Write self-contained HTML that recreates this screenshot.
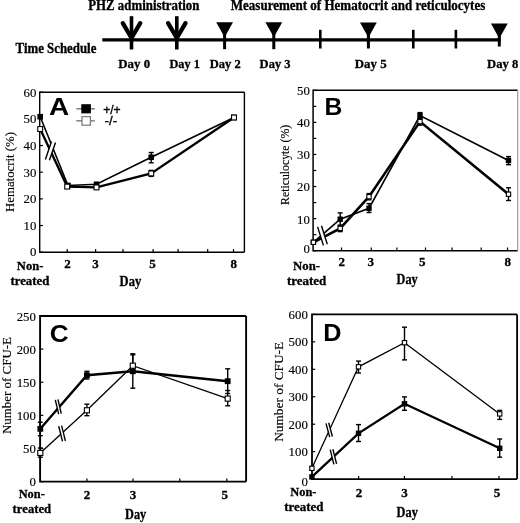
<!DOCTYPE html>
<html><head><meta charset="utf-8"><style>
html,body{margin:0;padding:0;background:#fff;}
body{width:520px;height:523px;overflow:hidden;}
svg{display:block;filter:grayscale(1);}
</style></head><body>
<svg width="520" height="523" viewBox="0 0 520 523">
<rect width="520" height="523" fill="#fff"/>
<text x="88.2" y="10" font-family='"Liberation Serif", serif' font-size="13.6" font-weight="bold" text-anchor="start" stroke="#000" stroke-width="0.3" textLength="111.2" lengthAdjust="spacingAndGlyphs">PHZ administration</text>
<text x="230.8" y="9.8" font-family='"Liberation Serif", serif' font-size="13.6" font-weight="bold" text-anchor="start" stroke="#000" stroke-width="0.3" textLength="254.5" lengthAdjust="spacingAndGlyphs">Measurement of Hematocrit and reticulocytes</text>
<text x="15.6" y="52.6" font-family='"Liberation Serif", serif' font-size="13.8" font-weight="bold" text-anchor="start" stroke="#000" stroke-width="0.3" textLength="80.8" lengthAdjust="spacingAndGlyphs">Time Schedule</text>
<line x1="102.3" y1="39.9" x2="500.5" y2="39.9" stroke="#000" stroke-width="3.3" stroke-linecap="butt"/>
<line x1="131.5" y1="16.2" x2="131.5" y2="49.5" stroke="#000" stroke-width="3.6" stroke-linecap="butt"/>
<line x1="122.8" y1="23.2" x2="130.9" y2="37" stroke="#000" stroke-width="4.3" stroke-linecap="round"/>
<line x1="140.2" y1="23.2" x2="132.1" y2="37" stroke="#000" stroke-width="4.3" stroke-linecap="round"/>
<line x1="176.8" y1="16.2" x2="176.8" y2="49.5" stroke="#000" stroke-width="3.6" stroke-linecap="butt"/>
<line x1="168.1" y1="23.2" x2="176.2" y2="37" stroke="#000" stroke-width="4.3" stroke-linecap="round"/>
<line x1="185.5" y1="23.2" x2="177.4" y2="37" stroke="#000" stroke-width="4.3" stroke-linecap="round"/>
<polygon points="216.2,22.3 233,22.3 224.6,37.3" fill="#000"/>
<line x1="224.6" y1="32.3" x2="224.6" y2="49.2" stroke="#000" stroke-width="3.0" stroke-linecap="butt"/>
<polygon points="265.4,22.3 282.2,22.3 273.8,37.3" fill="#000"/>
<line x1="273.8" y1="32.3" x2="273.8" y2="49.2" stroke="#000" stroke-width="3.0" stroke-linecap="butt"/>
<polygon points="360,22.4 376.8,22.4 368.4,37.4" fill="#000"/>
<line x1="368.4" y1="32.4" x2="368.4" y2="48.5" stroke="#000" stroke-width="3.0" stroke-linecap="butt"/>
<polygon points="490.9,23.5 507.7,23.5 499.3,38.5" fill="#000"/>
<line x1="499.3" y1="33.5" x2="499.3" y2="46.5" stroke="#000" stroke-width="3.0" stroke-linecap="butt"/>
<line x1="320.3" y1="29.8" x2="320.3" y2="48.5" stroke="#000" stroke-width="2.6" stroke-linecap="butt"/>
<line x1="413.3" y1="29.8" x2="413.3" y2="48.5" stroke="#000" stroke-width="2.6" stroke-linecap="butt"/>
<line x1="455.9" y1="29.8" x2="455.9" y2="48.5" stroke="#000" stroke-width="2.6" stroke-linecap="butt"/>
<text x="118.3" y="68.3" font-family='"Liberation Serif", serif' font-size="13.5" font-weight="bold" text-anchor="start" stroke="#000" stroke-width="0.3" textLength="31.8" lengthAdjust="spacingAndGlyphs">Day 0</text>
<text x="169.4" y="68.3" font-family='"Liberation Serif", serif' font-size="13.5" font-weight="bold" text-anchor="start" stroke="#000" stroke-width="0.3" textLength="30.4" lengthAdjust="spacingAndGlyphs">Day 1</text>
<text x="209.8" y="68.3" font-family='"Liberation Serif", serif' font-size="13.5" font-weight="bold" text-anchor="start" stroke="#000" stroke-width="0.3" textLength="31" lengthAdjust="spacingAndGlyphs">Day 2</text>
<text x="259.6" y="68.3" font-family='"Liberation Serif", serif' font-size="13.5" font-weight="bold" text-anchor="start" stroke="#000" stroke-width="0.3" textLength="31" lengthAdjust="spacingAndGlyphs">Day 3</text>
<text x="354.8" y="68.3" font-family='"Liberation Serif", serif' font-size="13.5" font-weight="bold" text-anchor="start" stroke="#000" stroke-width="0.3" textLength="31.8" lengthAdjust="spacingAndGlyphs">Day 5</text>
<text x="487.1" y="68.3" font-family='"Liberation Serif", serif' font-size="13.5" font-weight="bold" text-anchor="start" stroke="#000" stroke-width="0.3" textLength="31.1" lengthAdjust="spacingAndGlyphs">Day 8</text>
<path d="M244.4,92.2 L39.7,92.2 L39.7,252.2 L244.4,252.2" fill="none" stroke="#000" stroke-width="1.4"/>
<line x1="244.4" y1="92.2" x2="244.4" y2="252.2" stroke="#000" stroke-width="1.4"/>
<line x1="39.7" y1="252.2" x2="42.9" y2="252.2" stroke="#000" stroke-width="1.2" stroke-linecap="butt"/>
<line x1="39.7" y1="225.53" x2="42.9" y2="225.53" stroke="#000" stroke-width="1.2" stroke-linecap="butt"/>
<line x1="39.7" y1="198.87" x2="42.9" y2="198.87" stroke="#000" stroke-width="1.2" stroke-linecap="butt"/>
<line x1="39.7" y1="172.2" x2="42.9" y2="172.2" stroke="#000" stroke-width="1.2" stroke-linecap="butt"/>
<line x1="39.7" y1="145.53" x2="42.9" y2="145.53" stroke="#000" stroke-width="1.2" stroke-linecap="butt"/>
<line x1="39.7" y1="118.87" x2="42.9" y2="118.87" stroke="#000" stroke-width="1.2" stroke-linecap="butt"/>
<line x1="39.7" y1="92.2" x2="42.9" y2="92.2" stroke="#000" stroke-width="1.2" stroke-linecap="butt"/>
<text x="36.4" y="255.8" font-family='"Liberation Serif", serif' font-size="13.5" font-weight="normal" text-anchor="end" stroke="#000" stroke-width="0.15" textLength="6.4" lengthAdjust="spacingAndGlyphs">0</text>
<text x="36.4" y="230.03" font-family='"Liberation Serif", serif' font-size="13.5" font-weight="normal" text-anchor="end" stroke="#000" stroke-width="0.15" textLength="12.8" lengthAdjust="spacingAndGlyphs">10</text>
<text x="36.4" y="203.37" font-family='"Liberation Serif", serif' font-size="13.5" font-weight="normal" text-anchor="end" stroke="#000" stroke-width="0.15" textLength="12.8" lengthAdjust="spacingAndGlyphs">20</text>
<text x="36.4" y="176.7" font-family='"Liberation Serif", serif' font-size="13.5" font-weight="normal" text-anchor="end" stroke="#000" stroke-width="0.15" textLength="12.8" lengthAdjust="spacingAndGlyphs">30</text>
<text x="36.4" y="150.03" font-family='"Liberation Serif", serif' font-size="13.5" font-weight="normal" text-anchor="end" stroke="#000" stroke-width="0.15" textLength="12.8" lengthAdjust="spacingAndGlyphs">40</text>
<text x="36.4" y="123.37" font-family='"Liberation Serif", serif' font-size="13.5" font-weight="normal" text-anchor="end" stroke="#000" stroke-width="0.15" textLength="12.8" lengthAdjust="spacingAndGlyphs">50</text>
<text x="36.4" y="96.7" font-family='"Liberation Serif", serif' font-size="13.5" font-weight="normal" text-anchor="end" stroke="#000" stroke-width="0.15" textLength="12.8" lengthAdjust="spacingAndGlyphs">60</text>
<line x1="67.2" y1="252.2" x2="67.2" y2="249" stroke="#000" stroke-width="1.2" stroke-linecap="butt"/>
<line x1="95.6" y1="252.2" x2="95.6" y2="249" stroke="#000" stroke-width="1.2" stroke-linecap="butt"/>
<line x1="123" y1="252.2" x2="123" y2="249" stroke="#000" stroke-width="1.2" stroke-linecap="butt"/>
<line x1="153.1" y1="252.2" x2="153.1" y2="249" stroke="#000" stroke-width="1.2" stroke-linecap="butt"/>
<line x1="178.1" y1="252.2" x2="178.1" y2="249" stroke="#000" stroke-width="1.2" stroke-linecap="butt"/>
<line x1="207.7" y1="252.2" x2="207.7" y2="249" stroke="#000" stroke-width="1.2" stroke-linecap="butt"/>
<line x1="233.5" y1="252.2" x2="233.5" y2="249" stroke="#000" stroke-width="1.2" stroke-linecap="butt"/>
<text x="67.4" y="268" font-family='"Liberation Serif", serif' font-size="13" font-weight="bold" text-anchor="middle" stroke="#000" stroke-width="0.3">2</text>
<text x="95.4" y="268" font-family='"Liberation Serif", serif' font-size="13" font-weight="bold" text-anchor="middle" stroke="#000" stroke-width="0.3">3</text>
<text x="152.6" y="268" font-family='"Liberation Serif", serif' font-size="13" font-weight="bold" text-anchor="middle" stroke="#000" stroke-width="0.3">5</text>
<text x="233.7" y="268" font-family='"Liberation Serif", serif' font-size="13" font-weight="bold" text-anchor="middle" stroke="#000" stroke-width="0.3">8</text>
<text x="16.8" y="269.8" font-family='"Liberation Serif", serif' font-size="13" font-weight="bold" text-anchor="start" stroke="#000" stroke-width="0.3" textLength="26.6" lengthAdjust="spacingAndGlyphs">Non-</text>
<text x="10.4" y="285.3" font-family='"Liberation Serif", serif' font-size="13" font-weight="bold" text-anchor="start" stroke="#000" stroke-width="0.3" textLength="39" lengthAdjust="spacingAndGlyphs">treated</text>
<text x="119.6" y="286.2" font-family='"Liberation Serif", serif' font-size="13.8" font-weight="bold" text-anchor="start" stroke="#000" stroke-width="0.3" textLength="21.6" lengthAdjust="spacingAndGlyphs">Day</text>
<text x="9.6" y="172" font-family='"Liberation Serif", serif' font-size="13" stroke="#000" stroke-width="0.15" text-anchor="middle" transform="rotate(-90 9.6 172)" dominant-baseline="central" textLength="80" lengthAdjust="spacingAndGlyphs">Hematocrit (%)</text>
<text x="49" y="114.8" font-family='"Liberation Sans", sans-serif' font-size="24.5" font-weight="bold" text-anchor="start" textLength="20.2" lengthAdjust="spacingAndGlyphs">A</text>
<polyline points="40.2,129 67.2,186.6 96.5,187.4 151.2,173.4 234,117.5" fill="none" stroke="#000" stroke-width="2.3" stroke-linejoin="miter" stroke-miterlimit="3"/>
<polyline points="40.2,116.7 68,185.5 96.5,184.3 151.2,157.3 234,117.5" fill="none" stroke="#000" stroke-width="1.6" stroke-linejoin="miter" stroke-miterlimit="3"/>
<line x1="151.2" y1="170.4" x2="151.2" y2="176.4" stroke="#000" stroke-width="1.4" stroke-linecap="butt"/>
<line x1="148.7" y1="170.4" x2="153.7" y2="170.4" stroke="#000" stroke-width="1.4" stroke-linecap="butt"/>
<line x1="148.7" y1="176.4" x2="153.7" y2="176.4" stroke="#000" stroke-width="1.4" stroke-linecap="butt"/>
<line x1="151.2" y1="152.5" x2="151.2" y2="162.8" stroke="#000" stroke-width="1.4" stroke-linecap="butt"/>
<line x1="148.7" y1="152.5" x2="153.7" y2="152.5" stroke="#000" stroke-width="1.4" stroke-linecap="butt"/>
<line x1="148.7" y1="162.8" x2="153.7" y2="162.8" stroke="#000" stroke-width="1.4" stroke-linecap="butt"/>
<rect x="37.4" y="113.9" width="5.6" height="5.6" fill="#000"/>
<rect x="65.2" y="182.7" width="5.6" height="5.6" fill="#000"/>
<rect x="93.7" y="181.5" width="5.6" height="5.6" fill="#000"/>
<rect x="148.4" y="154.5" width="5.6" height="5.6" fill="#000"/>
<rect x="231.2" y="114.7" width="5.6" height="5.6" fill="#000"/>
<rect x="37.75" y="126.55" width="4.9" height="4.9" fill="#fff" stroke="#000" stroke-width="1.1"/>
<rect x="64.75" y="184.15" width="4.9" height="4.9" fill="#fff" stroke="#000" stroke-width="1.1"/>
<rect x="94.05" y="184.95" width="4.9" height="4.9" fill="#fff" stroke="#000" stroke-width="1.1"/>
<rect x="148.75" y="170.95" width="4.9" height="4.9" fill="#fff" stroke="#000" stroke-width="1.1"/>
<rect x="231.55" y="115.05" width="4.9" height="4.9" fill="#fff" stroke="#000" stroke-width="1.1"/>
<polygon points="45.4,159.4 51.5,141.6 55.5,142.5 49.4,160.3" fill="#fff"/>
<line x1="45.4" y1="159.4" x2="51.5" y2="141.6" stroke="#000" stroke-width="1.4" stroke-linecap="butt"/>
<line x1="49.4" y1="160.3" x2="55.5" y2="142.5" stroke="#000" stroke-width="1.4" stroke-linecap="butt"/>
<line x1="76.3" y1="108.8" x2="94.8" y2="108.8" stroke="#808080" stroke-width="1.5" stroke-linecap="butt"/>
<rect x="81.3" y="104.2" width="9.6" height="9.2" fill="#000"/>
<line x1="76.3" y1="120.8" x2="94.8" y2="120.8" stroke="#808080" stroke-width="1.5" stroke-linecap="butt"/>
<rect x="82" y="116.6" width="8.4" height="8.6" fill="#fff" stroke="#808080" stroke-width="1.3"/>
<text x="103.2" y="114" font-family='"Liberation Sans", sans-serif' font-size="12.5" font-weight="normal" text-anchor="start" stroke="#000" stroke-width="0.35" textLength="17.5" lengthAdjust="spacingAndGlyphs">+/+</text>
<text x="104.6" y="125.4" font-family='"Liberation Sans", sans-serif' font-size="12.5" font-weight="normal" text-anchor="start" stroke="#000" stroke-width="0.35" textLength="12.6" lengthAdjust="spacingAndGlyphs">-/-</text>
<path d="M517.7,90.3 L313.1,90.3 L313.1,250.7 L517.7,250.7" fill="none" stroke="#000" stroke-width="1.5"/>
<line x1="517.7" y1="90.3" x2="517.7" y2="250.7" stroke="#999" stroke-width="1.2"/>
<line x1="313.1" y1="250.7" x2="316.3" y2="250.7" stroke="#000" stroke-width="1.2" stroke-linecap="butt"/>
<line x1="313.1" y1="234.66" x2="316.3" y2="234.66" stroke="#000" stroke-width="1.2" stroke-linecap="butt"/>
<line x1="313.1" y1="218.62" x2="316.3" y2="218.62" stroke="#000" stroke-width="1.2" stroke-linecap="butt"/>
<line x1="313.1" y1="202.58" x2="316.3" y2="202.58" stroke="#000" stroke-width="1.2" stroke-linecap="butt"/>
<line x1="313.1" y1="186.54" x2="316.3" y2="186.54" stroke="#000" stroke-width="1.2" stroke-linecap="butt"/>
<line x1="313.1" y1="170.5" x2="316.3" y2="170.5" stroke="#000" stroke-width="1.2" stroke-linecap="butt"/>
<line x1="313.1" y1="154.46" x2="316.3" y2="154.46" stroke="#000" stroke-width="1.2" stroke-linecap="butt"/>
<line x1="313.1" y1="138.42" x2="316.3" y2="138.42" stroke="#000" stroke-width="1.2" stroke-linecap="butt"/>
<line x1="313.1" y1="122.38" x2="316.3" y2="122.38" stroke="#000" stroke-width="1.2" stroke-linecap="butt"/>
<line x1="313.1" y1="106.34" x2="316.3" y2="106.34" stroke="#000" stroke-width="1.2" stroke-linecap="butt"/>
<line x1="313.1" y1="90.3" x2="316.3" y2="90.3" stroke="#000" stroke-width="1.2" stroke-linecap="butt"/>
<text x="309.8" y="253.3" font-family='"Liberation Serif", serif' font-size="13.5" font-weight="normal" text-anchor="end" stroke="#000" stroke-width="0.15" textLength="6.4" lengthAdjust="spacingAndGlyphs">0</text>
<text x="309.8" y="223.52" font-family='"Liberation Serif", serif' font-size="13.5" font-weight="normal" text-anchor="end" stroke="#000" stroke-width="0.15" textLength="12.8" lengthAdjust="spacingAndGlyphs">10</text>
<text x="309.8" y="191.44" font-family='"Liberation Serif", serif' font-size="13.5" font-weight="normal" text-anchor="end" stroke="#000" stroke-width="0.15" textLength="12.8" lengthAdjust="spacingAndGlyphs">20</text>
<text x="309.8" y="159.36" font-family='"Liberation Serif", serif' font-size="13.5" font-weight="normal" text-anchor="end" stroke="#000" stroke-width="0.15" textLength="12.8" lengthAdjust="spacingAndGlyphs">30</text>
<text x="309.8" y="127.28" font-family='"Liberation Serif", serif' font-size="13.5" font-weight="normal" text-anchor="end" stroke="#000" stroke-width="0.15" textLength="12.8" lengthAdjust="spacingAndGlyphs">40</text>
<text x="309.8" y="95.2" font-family='"Liberation Serif", serif' font-size="13.5" font-weight="normal" text-anchor="end" stroke="#000" stroke-width="0.15" textLength="12.8" lengthAdjust="spacingAndGlyphs">50</text>
<line x1="341.5" y1="250.7" x2="341.5" y2="247.5" stroke="#000" stroke-width="1.2" stroke-linecap="butt"/>
<line x1="371.3" y1="250.7" x2="371.3" y2="247.5" stroke="#000" stroke-width="1.2" stroke-linecap="butt"/>
<line x1="396.9" y1="250.7" x2="396.9" y2="247.5" stroke="#000" stroke-width="1.2" stroke-linecap="butt"/>
<line x1="425.5" y1="250.7" x2="425.5" y2="247.5" stroke="#000" stroke-width="1.2" stroke-linecap="butt"/>
<line x1="452.1" y1="250.7" x2="452.1" y2="247.5" stroke="#000" stroke-width="1.2" stroke-linecap="butt"/>
<line x1="481.2" y1="250.7" x2="481.2" y2="247.5" stroke="#000" stroke-width="1.2" stroke-linecap="butt"/>
<line x1="507.5" y1="250.7" x2="507.5" y2="247.5" stroke="#000" stroke-width="1.2" stroke-linecap="butt"/>
<text x="341.8" y="266.3" font-family='"Liberation Serif", serif' font-size="13" font-weight="bold" text-anchor="middle" stroke="#000" stroke-width="0.3">2</text>
<text x="370.7" y="266.3" font-family='"Liberation Serif", serif' font-size="13" font-weight="bold" text-anchor="middle" stroke="#000" stroke-width="0.3">3</text>
<text x="422.3" y="266.3" font-family='"Liberation Serif", serif' font-size="13" font-weight="bold" text-anchor="middle" stroke="#000" stroke-width="0.3">5</text>
<text x="507.7" y="266.3" font-family='"Liberation Serif", serif' font-size="13" font-weight="bold" text-anchor="middle" stroke="#000" stroke-width="0.3">8</text>
<text x="293.1" y="269.9" font-family='"Liberation Serif", serif' font-size="13" font-weight="bold" text-anchor="start" stroke="#000" stroke-width="0.3" textLength="26.9" lengthAdjust="spacingAndGlyphs">Non-</text>
<text x="286.9" y="285.3" font-family='"Liberation Serif", serif' font-size="13" font-weight="bold" text-anchor="start" stroke="#000" stroke-width="0.3" textLength="39.4" lengthAdjust="spacingAndGlyphs">treated</text>
<text x="396.6" y="283.9" font-family='"Liberation Serif", serif' font-size="13.8" font-weight="bold" text-anchor="start" stroke="#000" stroke-width="0.3" textLength="21" lengthAdjust="spacingAndGlyphs">Day</text>
<text x="284.8" y="164.9" font-family='"Liberation Serif", serif' font-size="13" stroke="#000" stroke-width="0.15" text-anchor="middle" transform="rotate(-90 284.8 164.9)" dominant-baseline="central" textLength="80" lengthAdjust="spacingAndGlyphs">Reticulocyte (%)</text>
<text x="324.5" y="114.8" font-family='"Liberation Sans", sans-serif' font-size="23.5" font-weight="bold" text-anchor="start" textLength="17.8" lengthAdjust="spacingAndGlyphs">B</text>
<polyline points="313.4,242.3 340.2,228.4 369,196.7 420,121.6 508.5,194.2" fill="none" stroke="#000" stroke-width="2.6" stroke-linejoin="miter" stroke-miterlimit="3"/>
<polyline points="313.4,242.3 340.2,219.2 369,208.3 420,115.6 508.5,160.5" fill="none" stroke="#000" stroke-width="1.7" stroke-linejoin="miter" stroke-miterlimit="3"/>
<line x1="340.2" y1="225.2" x2="340.2" y2="231.6" stroke="#000" stroke-width="1.4" stroke-linecap="butt"/>
<line x1="337.7" y1="225.2" x2="342.7" y2="225.2" stroke="#000" stroke-width="1.4" stroke-linecap="butt"/>
<line x1="337.7" y1="231.6" x2="342.7" y2="231.6" stroke="#000" stroke-width="1.4" stroke-linecap="butt"/>
<line x1="369" y1="193.6" x2="369" y2="199.8" stroke="#000" stroke-width="1.4" stroke-linecap="butt"/>
<line x1="366.5" y1="193.6" x2="371.5" y2="193.6" stroke="#000" stroke-width="1.4" stroke-linecap="butt"/>
<line x1="366.5" y1="199.8" x2="371.5" y2="199.8" stroke="#000" stroke-width="1.4" stroke-linecap="butt"/>
<line x1="420" y1="118.5" x2="420" y2="125.2" stroke="#000" stroke-width="1.4" stroke-linecap="butt"/>
<line x1="417.5" y1="118.5" x2="422.5" y2="118.5" stroke="#000" stroke-width="1.4" stroke-linecap="butt"/>
<line x1="417.5" y1="125.2" x2="422.5" y2="125.2" stroke="#000" stroke-width="1.4" stroke-linecap="butt"/>
<line x1="508.5" y1="187.8" x2="508.5" y2="200.5" stroke="#000" stroke-width="1.4" stroke-linecap="butt"/>
<line x1="506" y1="187.8" x2="511" y2="187.8" stroke="#000" stroke-width="1.4" stroke-linecap="butt"/>
<line x1="506" y1="200.5" x2="511" y2="200.5" stroke="#000" stroke-width="1.4" stroke-linecap="butt"/>
<line x1="340.2" y1="212.9" x2="340.2" y2="225.5" stroke="#000" stroke-width="1.4" stroke-linecap="butt"/>
<line x1="337.7" y1="212.9" x2="342.7" y2="212.9" stroke="#000" stroke-width="1.4" stroke-linecap="butt"/>
<line x1="337.7" y1="225.5" x2="342.7" y2="225.5" stroke="#000" stroke-width="1.4" stroke-linecap="butt"/>
<line x1="369" y1="203.6" x2="369" y2="212.5" stroke="#000" stroke-width="1.4" stroke-linecap="butt"/>
<line x1="366.5" y1="203.6" x2="371.5" y2="203.6" stroke="#000" stroke-width="1.4" stroke-linecap="butt"/>
<line x1="366.5" y1="212.5" x2="371.5" y2="212.5" stroke="#000" stroke-width="1.4" stroke-linecap="butt"/>
<line x1="420" y1="112.6" x2="420" y2="118.6" stroke="#000" stroke-width="1.4" stroke-linecap="butt"/>
<line x1="417.5" y1="112.6" x2="422.5" y2="112.6" stroke="#000" stroke-width="1.4" stroke-linecap="butt"/>
<line x1="417.5" y1="118.6" x2="422.5" y2="118.6" stroke="#000" stroke-width="1.4" stroke-linecap="butt"/>
<line x1="508.5" y1="156.6" x2="508.5" y2="164.7" stroke="#000" stroke-width="1.4" stroke-linecap="butt"/>
<line x1="506" y1="156.6" x2="511" y2="156.6" stroke="#000" stroke-width="1.4" stroke-linecap="butt"/>
<line x1="506" y1="164.7" x2="511" y2="164.7" stroke="#000" stroke-width="1.4" stroke-linecap="butt"/>
<rect x="310.7" y="239.6" width="5.4" height="5.4" fill="#000"/>
<rect x="337.5" y="216.5" width="5.4" height="5.4" fill="#000"/>
<rect x="366.3" y="205.6" width="5.4" height="5.4" fill="#000"/>
<rect x="417.3" y="112.9" width="5.4" height="5.4" fill="#000"/>
<rect x="505.8" y="157.8" width="5.4" height="5.4" fill="#000"/>
<rect x="311.25" y="240.15" width="4.3" height="4.3" fill="#fff" stroke="#000" stroke-width="1.1"/>
<rect x="338.05" y="226.25" width="4.3" height="4.3" fill="#fff" stroke="#000" stroke-width="1.1"/>
<rect x="366.85" y="194.55" width="4.3" height="4.3" fill="#fff" stroke="#000" stroke-width="1.1"/>
<rect x="417.85" y="119.45" width="4.3" height="4.3" fill="#fff" stroke="#000" stroke-width="1.1"/>
<rect x="506.35" y="192.05" width="4.3" height="4.3" fill="#fff" stroke="#000" stroke-width="1.1"/>
<polygon points="317.6,226.9 323.4,245.4 327.3,244.3 321.5,225.8" fill="#fff"/>
<line x1="317.6" y1="226.9" x2="323.4" y2="245.4" stroke="#000" stroke-width="1.4" stroke-linecap="butt"/>
<line x1="321.5" y1="225.8" x2="327.3" y2="244.3" stroke="#000" stroke-width="1.4" stroke-linecap="butt"/>
<path d="M246.1,316 L40.1,316 L40.1,481.6 L246.1,481.6" fill="none" stroke="#000" stroke-width="1.9"/>
<line x1="246.1" y1="316" x2="246.1" y2="481.6" stroke="#000" stroke-width="1.9"/>
<line x1="40.1" y1="481.6" x2="43.3" y2="481.6" stroke="#000" stroke-width="1.2" stroke-linecap="butt"/>
<line x1="40.1" y1="448.48" x2="43.3" y2="448.48" stroke="#000" stroke-width="1.2" stroke-linecap="butt"/>
<line x1="40.1" y1="415.36" x2="43.3" y2="415.36" stroke="#000" stroke-width="1.2" stroke-linecap="butt"/>
<line x1="40.1" y1="382.24" x2="43.3" y2="382.24" stroke="#000" stroke-width="1.2" stroke-linecap="butt"/>
<line x1="40.1" y1="349.12" x2="43.3" y2="349.12" stroke="#000" stroke-width="1.2" stroke-linecap="butt"/>
<line x1="40.1" y1="316" x2="43.3" y2="316" stroke="#000" stroke-width="1.2" stroke-linecap="butt"/>
<text x="35.9" y="486.1" font-family='"Liberation Serif", serif' font-size="13.5" font-weight="normal" text-anchor="end" stroke="#000" stroke-width="0.15" textLength="6.4" lengthAdjust="spacingAndGlyphs">0</text>
<text x="35.9" y="452.98" font-family='"Liberation Serif", serif' font-size="13.5" font-weight="normal" text-anchor="end" stroke="#000" stroke-width="0.15" textLength="12.8" lengthAdjust="spacingAndGlyphs">50</text>
<text x="35.9" y="419.86" font-family='"Liberation Serif", serif' font-size="13.5" font-weight="normal" text-anchor="end" stroke="#000" stroke-width="0.15" textLength="19.2" lengthAdjust="spacingAndGlyphs">100</text>
<text x="35.9" y="386.74" font-family='"Liberation Serif", serif' font-size="13.5" font-weight="normal" text-anchor="end" stroke="#000" stroke-width="0.15" textLength="19.2" lengthAdjust="spacingAndGlyphs">150</text>
<text x="35.9" y="353.62" font-family='"Liberation Serif", serif' font-size="13.5" font-weight="normal" text-anchor="end" stroke="#000" stroke-width="0.15" textLength="19.2" lengthAdjust="spacingAndGlyphs">200</text>
<text x="35.9" y="320.5" font-family='"Liberation Serif", serif' font-size="13.5" font-weight="normal" text-anchor="end" stroke="#000" stroke-width="0.15" textLength="19.2" lengthAdjust="spacingAndGlyphs">250</text>
<line x1="86.9" y1="481.6" x2="86.9" y2="478.4" stroke="#000" stroke-width="1.2" stroke-linecap="butt"/>
<line x1="133" y1="481.6" x2="133" y2="478.4" stroke="#000" stroke-width="1.2" stroke-linecap="butt"/>
<line x1="179.8" y1="481.6" x2="179.8" y2="478.4" stroke="#000" stroke-width="1.2" stroke-linecap="butt"/>
<line x1="226.8" y1="481.6" x2="226.8" y2="478.4" stroke="#000" stroke-width="1.2" stroke-linecap="butt"/>
<text x="87" y="498.8" font-family='"Liberation Serif", serif' font-size="13" font-weight="bold" text-anchor="middle" stroke="#000" stroke-width="0.3">2</text>
<text x="133" y="498.8" font-family='"Liberation Serif", serif' font-size="13" font-weight="bold" text-anchor="middle" stroke="#000" stroke-width="0.3">3</text>
<text x="224.8" y="498.8" font-family='"Liberation Serif", serif' font-size="13" font-weight="bold" text-anchor="middle" stroke="#000" stroke-width="0.3">5</text>
<text x="18.7" y="498.4" font-family='"Liberation Serif", serif' font-size="13" font-weight="bold" text-anchor="start" stroke="#000" stroke-width="0.3" textLength="26.1" lengthAdjust="spacingAndGlyphs">Non-</text>
<text x="12.6" y="513.4" font-family='"Liberation Serif", serif' font-size="13" font-weight="bold" text-anchor="start" stroke="#000" stroke-width="0.3" textLength="38.6" lengthAdjust="spacingAndGlyphs">treated</text>
<text x="125" y="518.5" font-family='"Liberation Serif", serif' font-size="13.8" font-weight="bold" text-anchor="start" stroke="#000" stroke-width="0.3" textLength="21.2" lengthAdjust="spacingAndGlyphs">Day</text>
<text x="6.2" y="385.5" font-family='"Liberation Serif", serif' font-size="13" stroke="#000" stroke-width="0.15" text-anchor="middle" transform="rotate(-90 6.2 385.5)" dominant-baseline="central" textLength="97" lengthAdjust="spacingAndGlyphs">Number of CFU-E</text>
<text x="49.8" y="341.8" font-family='"Liberation Sans", sans-serif' font-size="24" font-weight="bold" text-anchor="start" textLength="18.9" lengthAdjust="spacingAndGlyphs">C</text>
<polyline points="40.3,452.9 86.9,410.3 132.8,365.7 227.7,398.6" fill="none" stroke="#000" stroke-width="1.3" stroke-linejoin="miter" stroke-miterlimit="3"/>
<polyline points="40.3,428.8 86.9,375.2 132.8,371.3 227.7,381.2" fill="none" stroke="#000" stroke-width="2.4" stroke-linejoin="miter" stroke-miterlimit="3"/>
<line x1="40.3" y1="448" x2="40.3" y2="457.2" stroke="#000" stroke-width="1.4" stroke-linecap="butt"/>
<line x1="37.8" y1="448" x2="42.8" y2="448" stroke="#000" stroke-width="1.4" stroke-linecap="butt"/>
<line x1="37.8" y1="457.2" x2="42.8" y2="457.2" stroke="#000" stroke-width="1.4" stroke-linecap="butt"/>
<line x1="86.9" y1="404.2" x2="86.9" y2="415.7" stroke="#000" stroke-width="1.4" stroke-linecap="butt"/>
<line x1="84.4" y1="404.2" x2="89.4" y2="404.2" stroke="#000" stroke-width="1.4" stroke-linecap="butt"/>
<line x1="84.4" y1="415.7" x2="89.4" y2="415.7" stroke="#000" stroke-width="1.4" stroke-linecap="butt"/>
<line x1="132.8" y1="353.8" x2="132.8" y2="371" stroke="#000" stroke-width="1.4" stroke-linecap="butt"/>
<line x1="130.3" y1="353.8" x2="135.3" y2="353.8" stroke="#000" stroke-width="1.4" stroke-linecap="butt"/>
<line x1="130.3" y1="371" x2="135.3" y2="371" stroke="#000" stroke-width="1.4" stroke-linecap="butt"/>
<line x1="227.7" y1="390.5" x2="227.7" y2="405.8" stroke="#000" stroke-width="1.4" stroke-linecap="butt"/>
<line x1="225.2" y1="390.5" x2="230.2" y2="390.5" stroke="#000" stroke-width="1.4" stroke-linecap="butt"/>
<line x1="225.2" y1="405.8" x2="230.2" y2="405.8" stroke="#000" stroke-width="1.4" stroke-linecap="butt"/>
<line x1="40.3" y1="422.2" x2="40.3" y2="435.7" stroke="#000" stroke-width="1.4" stroke-linecap="butt"/>
<line x1="37.8" y1="422.2" x2="42.8" y2="422.2" stroke="#000" stroke-width="1.4" stroke-linecap="butt"/>
<line x1="37.8" y1="435.7" x2="42.8" y2="435.7" stroke="#000" stroke-width="1.4" stroke-linecap="butt"/>
<line x1="86.9" y1="371.3" x2="86.9" y2="379" stroke="#000" stroke-width="1.4" stroke-linecap="butt"/>
<line x1="84.4" y1="371.3" x2="89.4" y2="371.3" stroke="#000" stroke-width="1.4" stroke-linecap="butt"/>
<line x1="84.4" y1="379" x2="89.4" y2="379" stroke="#000" stroke-width="1.4" stroke-linecap="butt"/>
<line x1="132.8" y1="354.8" x2="132.8" y2="388.2" stroke="#000" stroke-width="1.4" stroke-linecap="butt"/>
<line x1="130.3" y1="354.8" x2="135.3" y2="354.8" stroke="#000" stroke-width="1.4" stroke-linecap="butt"/>
<line x1="130.3" y1="388.2" x2="135.3" y2="388.2" stroke="#000" stroke-width="1.4" stroke-linecap="butt"/>
<line x1="227.7" y1="368.8" x2="227.7" y2="393.5" stroke="#000" stroke-width="1.4" stroke-linecap="butt"/>
<line x1="225.2" y1="368.8" x2="230.2" y2="368.8" stroke="#000" stroke-width="1.4" stroke-linecap="butt"/>
<line x1="225.2" y1="393.5" x2="230.2" y2="393.5" stroke="#000" stroke-width="1.4" stroke-linecap="butt"/>
<rect x="37.4" y="425.9" width="5.8" height="5.8" fill="#000"/>
<rect x="84" y="372.3" width="5.8" height="5.8" fill="#000"/>
<rect x="129.9" y="368.4" width="5.8" height="5.8" fill="#000"/>
<rect x="224.8" y="378.3" width="5.8" height="5.8" fill="#000"/>
<rect x="37.75" y="450.35" width="5.1" height="5.1" fill="#fff" stroke="#000" stroke-width="1.1"/>
<rect x="84.35" y="407.75" width="5.1" height="5.1" fill="#fff" stroke="#000" stroke-width="1.1"/>
<rect x="130.25" y="363.15" width="5.1" height="5.1" fill="#fff" stroke="#000" stroke-width="1.1"/>
<rect x="225.15" y="396.05" width="5.1" height="5.1" fill="#fff" stroke="#000" stroke-width="1.1"/>
<polygon points="55.3,399.8 58.7,414.1 61.3,413.7 57.9,399.4" fill="#fff"/>
<line x1="55.3" y1="399.8" x2="58.7" y2="414.1" stroke="#000" stroke-width="1.4" stroke-linecap="butt"/>
<line x1="57.9" y1="399.4" x2="61.3" y2="413.7" stroke="#000" stroke-width="1.4" stroke-linecap="butt"/>
<polygon points="58.7,426.1 62.5,441.4 65.4,440.9 61.6,425.6" fill="#fff"/>
<line x1="58.7" y1="426.1" x2="62.5" y2="441.4" stroke="#000" stroke-width="1.4" stroke-linecap="butt"/>
<line x1="61.6" y1="425.6" x2="65.4" y2="440.9" stroke="#000" stroke-width="1.4" stroke-linecap="butt"/>
<path d="M517.1,314.4 L312,314.4 L312,479.1 L517.1,479.1" fill="none" stroke="#000" stroke-width="1.8"/>
<line x1="517.1" y1="314.4" x2="517.1" y2="479.1" stroke="#000" stroke-width="1.8"/>
<line x1="312" y1="479.1" x2="315.2" y2="479.1" stroke="#000" stroke-width="1.2" stroke-linecap="butt"/>
<line x1="312" y1="451.65" x2="315.2" y2="451.65" stroke="#000" stroke-width="1.2" stroke-linecap="butt"/>
<line x1="312" y1="424.2" x2="315.2" y2="424.2" stroke="#000" stroke-width="1.2" stroke-linecap="butt"/>
<line x1="312" y1="396.75" x2="315.2" y2="396.75" stroke="#000" stroke-width="1.2" stroke-linecap="butt"/>
<line x1="312" y1="369.3" x2="315.2" y2="369.3" stroke="#000" stroke-width="1.2" stroke-linecap="butt"/>
<line x1="312" y1="341.85" x2="315.2" y2="341.85" stroke="#000" stroke-width="1.2" stroke-linecap="butt"/>
<line x1="312" y1="314.4" x2="315.2" y2="314.4" stroke="#000" stroke-width="1.2" stroke-linecap="butt"/>
<text x="307.8" y="485.6" font-family='"Liberation Serif", serif' font-size="13.5" font-weight="normal" text-anchor="end" stroke="#000" stroke-width="0.15" textLength="6.4" lengthAdjust="spacingAndGlyphs">0</text>
<text x="307.8" y="456.15" font-family='"Liberation Serif", serif' font-size="13.5" font-weight="normal" text-anchor="end" stroke="#000" stroke-width="0.15" textLength="19.2" lengthAdjust="spacingAndGlyphs">100</text>
<text x="307.8" y="428.7" font-family='"Liberation Serif", serif' font-size="13.5" font-weight="normal" text-anchor="end" stroke="#000" stroke-width="0.15" textLength="19.2" lengthAdjust="spacingAndGlyphs">200</text>
<text x="307.8" y="401.25" font-family='"Liberation Serif", serif' font-size="13.5" font-weight="normal" text-anchor="end" stroke="#000" stroke-width="0.15" textLength="19.2" lengthAdjust="spacingAndGlyphs">300</text>
<text x="307.8" y="373.8" font-family='"Liberation Serif", serif' font-size="13.5" font-weight="normal" text-anchor="end" stroke="#000" stroke-width="0.15" textLength="19.2" lengthAdjust="spacingAndGlyphs">400</text>
<text x="307.8" y="346.35" font-family='"Liberation Serif", serif' font-size="13.5" font-weight="normal" text-anchor="end" stroke="#000" stroke-width="0.15" textLength="19.2" lengthAdjust="spacingAndGlyphs">500</text>
<text x="307.8" y="318.9" font-family='"Liberation Serif", serif' font-size="13.5" font-weight="normal" text-anchor="end" stroke="#000" stroke-width="0.15" textLength="19.2" lengthAdjust="spacingAndGlyphs">600</text>
<line x1="358.6" y1="479.1" x2="358.6" y2="475.9" stroke="#000" stroke-width="1.2" stroke-linecap="butt"/>
<line x1="404.4" y1="479.1" x2="404.4" y2="475.9" stroke="#000" stroke-width="1.2" stroke-linecap="butt"/>
<line x1="451.9" y1="479.1" x2="451.9" y2="475.9" stroke="#000" stroke-width="1.2" stroke-linecap="butt"/>
<line x1="499" y1="479.1" x2="499" y2="475.9" stroke="#000" stroke-width="1.2" stroke-linecap="butt"/>
<text x="359" y="497" font-family='"Liberation Serif", serif' font-size="13" font-weight="bold" text-anchor="middle" stroke="#000" stroke-width="0.3">2</text>
<text x="404.5" y="497" font-family='"Liberation Serif", serif' font-size="13" font-weight="bold" text-anchor="middle" stroke="#000" stroke-width="0.3">3</text>
<text x="497" y="497" font-family='"Liberation Serif", serif' font-size="13" font-weight="bold" text-anchor="middle" stroke="#000" stroke-width="0.3">5</text>
<text x="290.3" y="496.3" font-family='"Liberation Serif", serif' font-size="13" font-weight="bold" text-anchor="start" stroke="#000" stroke-width="0.3" textLength="26.2" lengthAdjust="spacingAndGlyphs">Non-</text>
<text x="284.3" y="511.4" font-family='"Liberation Serif", serif' font-size="13" font-weight="bold" text-anchor="start" stroke="#000" stroke-width="0.3" textLength="39.2" lengthAdjust="spacingAndGlyphs">treated</text>
<text x="396.6" y="516.6" font-family='"Liberation Serif", serif' font-size="13.8" font-weight="bold" text-anchor="start" stroke="#000" stroke-width="0.3" textLength="21.2" lengthAdjust="spacingAndGlyphs">Day</text>
<text x="278.2" y="391.8" font-family='"Liberation Serif", serif' font-size="13" stroke="#000" stroke-width="0.15" text-anchor="middle" transform="rotate(-90 278.2 391.8)" dominant-baseline="central" textLength="100" lengthAdjust="spacingAndGlyphs">Number of CFU-E</text>
<text x="323.2" y="341.1" font-family='"Liberation Sans", sans-serif' font-size="24" font-weight="bold" text-anchor="start" textLength="18.2" lengthAdjust="spacingAndGlyphs">D</text>
<polyline points="311.9,468.3 358.5,366.8 404.5,342.7 499.7,413.9" fill="none" stroke="#000" stroke-width="1.3" stroke-linejoin="miter" stroke-miterlimit="3"/>
<polyline points="311.9,476.9 358.5,433.3 404.5,403.8 499.7,448.3" fill="none" stroke="#000" stroke-width="2.3" stroke-linejoin="miter" stroke-miterlimit="3"/>
<line x1="358.5" y1="361.1" x2="358.5" y2="373" stroke="#000" stroke-width="1.4" stroke-linecap="butt"/>
<line x1="356" y1="361.1" x2="361" y2="361.1" stroke="#000" stroke-width="1.4" stroke-linecap="butt"/>
<line x1="356" y1="373" x2="361" y2="373" stroke="#000" stroke-width="1.4" stroke-linecap="butt"/>
<line x1="404.5" y1="327.2" x2="404.5" y2="359.9" stroke="#000" stroke-width="1.4" stroke-linecap="butt"/>
<line x1="402" y1="327.2" x2="407" y2="327.2" stroke="#000" stroke-width="1.4" stroke-linecap="butt"/>
<line x1="402" y1="359.9" x2="407" y2="359.9" stroke="#000" stroke-width="1.4" stroke-linecap="butt"/>
<line x1="499.7" y1="410.4" x2="499.7" y2="419.4" stroke="#000" stroke-width="1.4" stroke-linecap="butt"/>
<line x1="497.2" y1="410.4" x2="502.2" y2="410.4" stroke="#000" stroke-width="1.4" stroke-linecap="butt"/>
<line x1="497.2" y1="419.4" x2="502.2" y2="419.4" stroke="#000" stroke-width="1.4" stroke-linecap="butt"/>
<line x1="358.5" y1="424.6" x2="358.5" y2="441.5" stroke="#000" stroke-width="1.4" stroke-linecap="butt"/>
<line x1="356" y1="424.6" x2="361" y2="424.6" stroke="#000" stroke-width="1.4" stroke-linecap="butt"/>
<line x1="356" y1="441.5" x2="361" y2="441.5" stroke="#000" stroke-width="1.4" stroke-linecap="butt"/>
<line x1="404.5" y1="396.9" x2="404.5" y2="410.3" stroke="#000" stroke-width="1.4" stroke-linecap="butt"/>
<line x1="402" y1="396.9" x2="407" y2="396.9" stroke="#000" stroke-width="1.4" stroke-linecap="butt"/>
<line x1="402" y1="410.3" x2="407" y2="410.3" stroke="#000" stroke-width="1.4" stroke-linecap="butt"/>
<line x1="499.7" y1="439" x2="499.7" y2="457.2" stroke="#000" stroke-width="1.4" stroke-linecap="butt"/>
<line x1="497.2" y1="439" x2="502.2" y2="439" stroke="#000" stroke-width="1.4" stroke-linecap="butt"/>
<line x1="497.2" y1="457.2" x2="502.2" y2="457.2" stroke="#000" stroke-width="1.4" stroke-linecap="butt"/>
<rect x="309.2" y="474.2" width="5.4" height="5.4" fill="#000"/>
<rect x="355.8" y="430.6" width="5.4" height="5.4" fill="#000"/>
<rect x="401.8" y="401.1" width="5.4" height="5.4" fill="#000"/>
<rect x="497" y="445.6" width="5.4" height="5.4" fill="#000"/>
<rect x="309.75" y="466.15" width="4.3" height="4.3" fill="#fff" stroke="#000" stroke-width="1.1"/>
<rect x="356.35" y="364.65" width="4.3" height="4.3" fill="#fff" stroke="#000" stroke-width="1.1"/>
<rect x="402.35" y="340.55" width="4.3" height="4.3" fill="#fff" stroke="#000" stroke-width="1.1"/>
<rect x="497.55" y="411.75" width="4.3" height="4.3" fill="#fff" stroke="#000" stroke-width="1.1"/>
<polygon points="326,423.4 329.7,437.1 332.4,436.5 328.7,422.8" fill="#fff"/>
<line x1="326" y1="423.4" x2="329.7" y2="437.1" stroke="#000" stroke-width="1.4" stroke-linecap="butt"/>
<line x1="328.7" y1="422.8" x2="332.4" y2="436.5" stroke="#000" stroke-width="1.4" stroke-linecap="butt"/>
<polygon points="330.2,449.7 333.9,464.4 336.6,463.9 332.9,449.2" fill="#fff"/>
<line x1="330.2" y1="449.7" x2="333.9" y2="464.4" stroke="#000" stroke-width="1.4" stroke-linecap="butt"/>
<line x1="332.9" y1="449.2" x2="336.6" y2="463.9" stroke="#000" stroke-width="1.4" stroke-linecap="butt"/>
</svg>
</body></html>
